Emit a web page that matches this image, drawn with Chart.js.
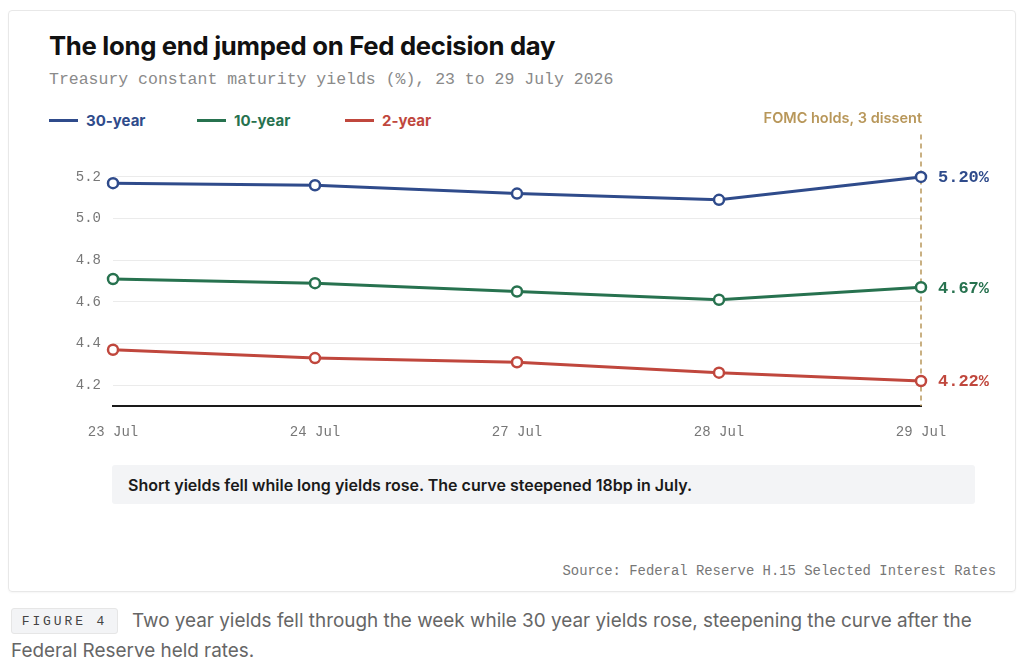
<!DOCTYPE html>
<html>
<head>
<meta charset="utf-8">
<script src="https://cdn.jsdelivr.net/npm/chart.js@4.4.1/dist/chart.umd.min.js"></script>
<style>
  body { margin:0; background:#fff; width:1024px; height:668px; position:relative; overflow:hidden; font-family:Inter, "Noto Sans", sans-serif; }
  .card { position:absolute; left:8px; top:10px; width:1006px; height:580px; border:1px solid #e8e8e8; border-radius:4px; box-shadow:0 1px 2px rgba(0,0,0,0.04); }
  .title { position:absolute; left:49px; top:30px; font-size:25.7px; font-weight:700; color:#111; letter-spacing:-0.3px; }
  .sub { position:absolute; left:49px; top:70px; font-family:"Liberation Mono", monospace; font-size:16.5px; color:#8a8a8a; }
  .legend { position:absolute; left:49px; top:111px; display:flex; font-size:15px; font-weight:700; }
  .legend div { display:flex; align-items:center; width:148px; }
  .legend span.sw { display:inline-block; width:29px; height:3px; margin-right:8px; }
  .note { position:absolute; left:112px; top:465px; width:863px; height:39px; background:#f3f4f6; border-radius:3px; }
  .note span { position:absolute; left:16px; top:10px; font-size:16px; font-weight:600; color:#1a1a1a; }
  .src { position:absolute; right:28px; top:563px; font-family:"Liberation Mono", monospace; font-size:13.9px; color:#777; }
  .fig { position:absolute; left:11px; top:608px; width:107px; height:26px; background:#f3f4f6; border:1px solid #e6e6e6; border-radius:3px; box-sizing:border-box; font-family:"Liberation Mono", monospace; font-size:13px; letter-spacing:2.9px; color:#444; text-align:center; line-height:25px; }
  .cap { position:absolute; left:11px; top:606px; width:1000px; font-size:18.9px; line-height:30px; color:#666; text-indent:121px; }
  #wrap { position:absolute; left:40px; top:96px; width:960px; height:354px; }
</style>
</head>
<body>
<div class="card"></div>
<div class="title">The long end jumped on Fed decision day</div>
<div class="sub">Treasury constant maturity yields (%), 23 to 29 July 2026</div>
<div class="legend" id="legend"></div>
<div id="wrap"><canvas id="myChart"></canvas></div>
<div class="note"><span>Short yields fell while long yields rose. The curve steepened 18bp in July.</span></div>
<div class="src">Source: Federal Reserve H.15 Selected Interest Rates</div>
<div class="cap">Two year yields fell through the week while 30 year yields rose, steepening the curve after the Federal Reserve held rates.</div>
<div class="fig">FIGURE 4</div>
<script>
var days = ["23 Jul", "24 Jul", "27 Jul", "28 Jul", "29 Jul"];
var names = ["30-year", "10-year", "2-year"];
var colors = ["#2f4b8b", "#27724f", "#c0473d"];
var y30 = [5.17, 5.16, 5.12, 5.09, 5.20];
var y10 = [4.71, 4.69, 4.65, 4.61, 4.67];
var y2 = [4.37, 4.33, 4.31, 4.26, 4.22];
var yTicks = [4.2, 4.4, 4.6, 4.8, 5.0, 5.2];
var eventLabel = "FOMC holds, 3 dissent";
var eventColor = "#b8975a";

var series = [y30, y10, y2];

// legend
var legend = document.getElementById("legend");
names.forEach(function(n, i){
  var d = document.createElement("div");
  d.innerHTML = '<span class="sw" style="background:' + colors[i] + '"></span><span style="color:' + colors[i] + '">' + n + '</span>';
  legend.appendChild(d);
});

var mono = "'Liberation Mono', monospace";

var extras = {
  id: "extras",
  beforeDatasetsDraw: function(chart){
    var c = chart.ctx, a = chart.chartArea;
    var x = chart.scales.x.getPixelForValue(days.length - 1);
    c.save();
    c.strokeStyle = eventColor;
    c.lineWidth = 1.5;
    c.setLineDash([5, 4]);
    c.beginPath();
    c.moveTo(x, a.top - 32);
    c.lineTo(x, a.bottom);
    c.stroke();
    c.restore();
  },
  afterDatasetsDraw: function(chart){
    var c = chart.ctx, a = chart.chartArea;
    var x = chart.scales.x.getPixelForValue(days.length - 1);
    c.save();
    c.font = "600 14.5px Inter, sans-serif";
    c.fillStyle = eventColor;
    c.textAlign = "right";
    c.textBaseline = "middle";
    c.fillText(eventLabel, x + 1, a.top - 48);
    c.font = "bold 17px " + mono;
    c.textAlign = "left";
    series.forEach(function(s, i){
      var v = s[s.length - 1];
      var y = chart.scales.y.getPixelForValue(v);
      c.fillStyle = colors[i];
      c.fillText(v.toFixed(2) + "%", x + 17, y + 1);
    });
    c.restore();
  }
};

new Chart(document.getElementById("myChart"), {
  type: "line",
  data: {
    labels: days,
    datasets: series.map(function(s, i){
      return {
        label: names[i],
        data: s,
        borderColor: colors[i],
        backgroundColor: "#ffffff",
        pointBackgroundColor: "#ffffff",
        pointBorderColor: colors[i],
        pointRadius: 5,
        pointBorderWidth: 2.5,
        borderWidth: 3,
        tension: 0
      };
    })
  },
  options: {
    responsive: true,
    maintainAspectRatio: false,
    animation: false,
    layout: { padding: { top: 70.5, right: 79, left: 0, bottom: 0 } },
    plugins: { legend: { display: false }, tooltip: { enabled: false } },
    scales: {
      x: {
        offset: false,
        grid: { display: false, drawTicks: false },
        border: { display: true, color: "#1a1a1a", width: 2 },
        ticks: { padding: 18, color: "#777", font: { family: mono, size: 14 }, maxRotation: 0 },
        afterFit: function(s){ s.height = 44; }
      },
      y: {
        min: 4.1,
        max: 5.25,
        border: { display: false },
        grid: { color: "#ebebeb", lineWidth: 1, drawTicks: false },
        ticks: { padding: 12, color: "#777", font: { family: mono, size: 14 },
          callback: function(v){ return Number(v).toFixed(1); } },
        afterBuildTicks: function(s){ s.ticks = yTicks.map(function(v){ return { value: v }; }); },
        afterFit: function(s){ s.width = 73; }
      }
    }
  },
  plugins: [extras]
});
</script>
</body>
</html>
